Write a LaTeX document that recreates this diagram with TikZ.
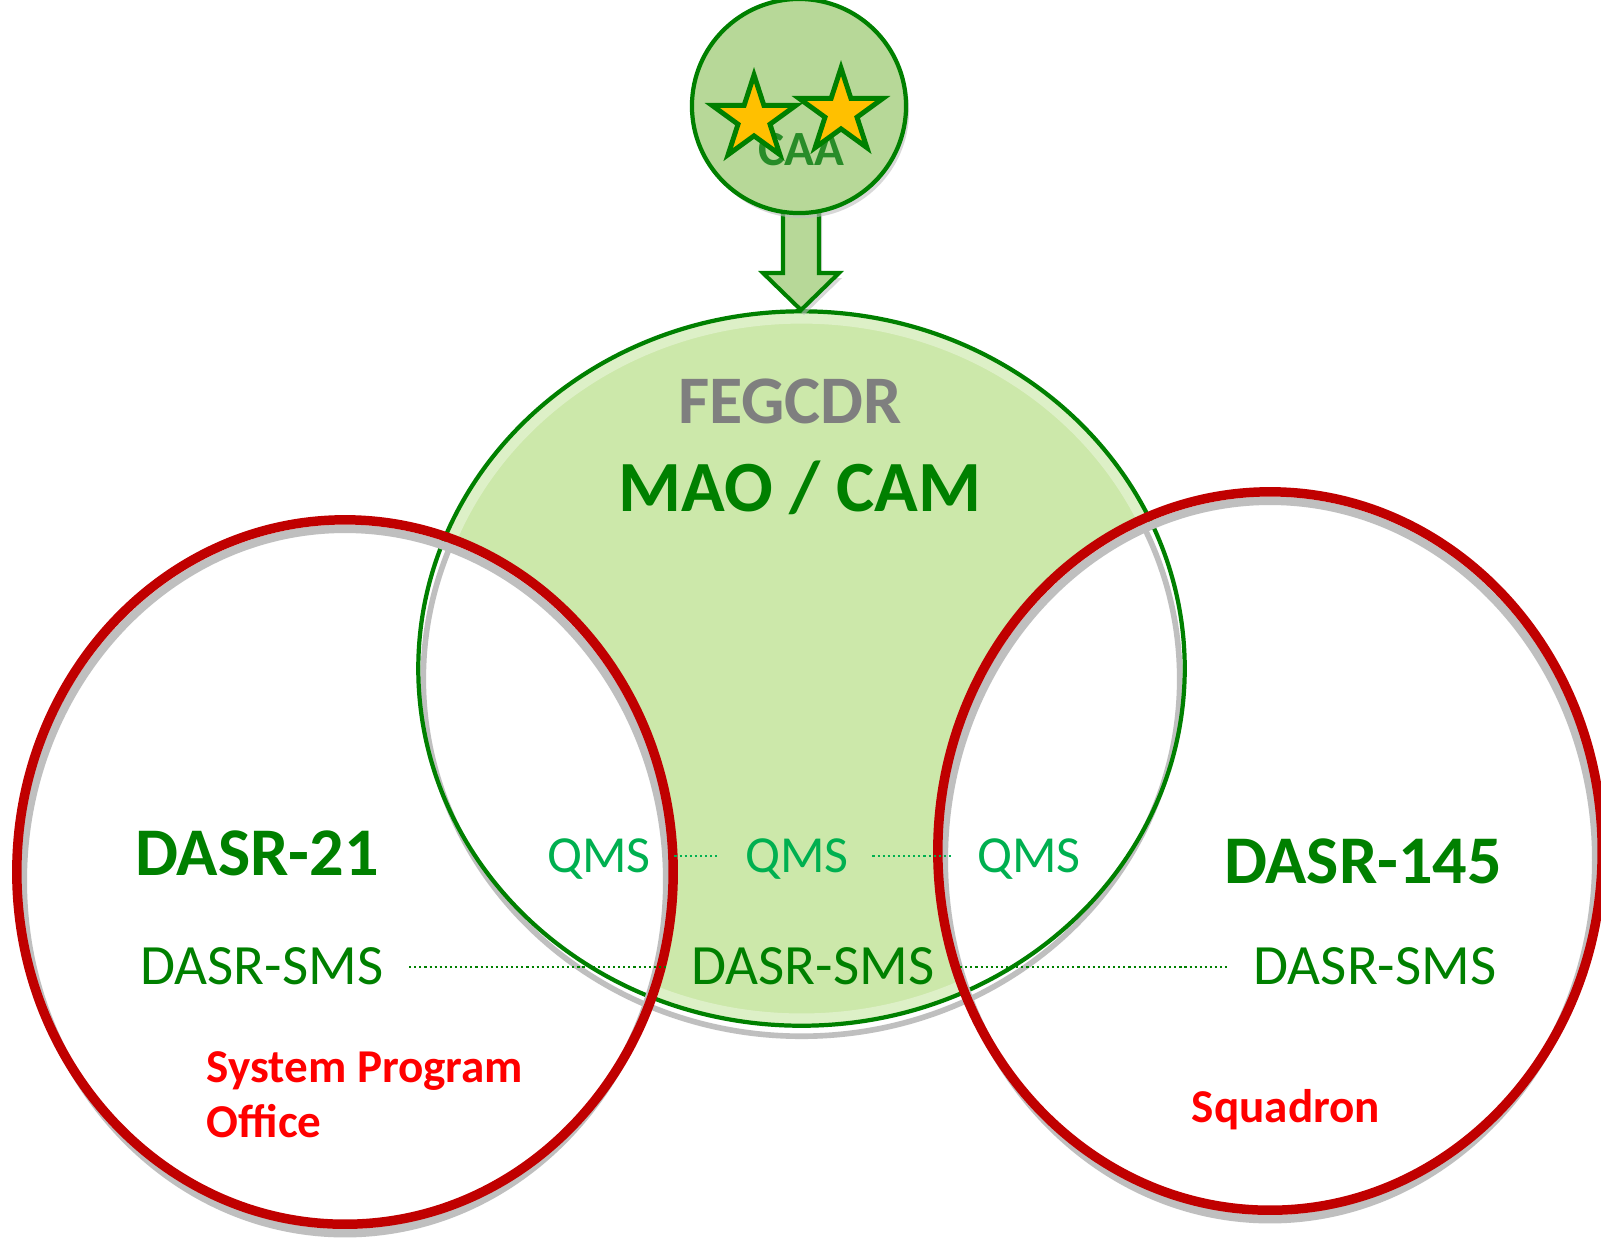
\documentclass[tikz,border=0pt]{standalone}
\usepackage{fontspec}
\setmainfont{Carlito}
\usetikzlibrary{shapes.geometric}
\definecolor{dgreen}{RGB}{0,128,0}
\definecolor{qgreen}{RGB}{0,176,80}
\definecolor{lgreen}{RGB}{204,232,170}
\definecolor{sage}{RGB}{183,216,152}
\definecolor{dred}{RGB}{192,0,0}
\definecolor{shadowgray}{RGB}{191,191,191}
\definecolor{txtgray}{RGB}{127,127,127}
\definecolor{starfill}{RGB}{255,192,0}
\definecolor{caagreen}{RGB}{40,140,40}
\begin{document}
\begin{tikzpicture}[x=0.01cm, y=-0.01cm,
  redring/.style={draw=dred, line width=2.7pt},
  shadowring/.style={draw=shadowgray, line width=2.4pt},
  greenring/.style={draw=dgreen, line width=1.2pt},
  gshadow/.style={draw=shadowgray, line width=1.6pt},
  bigbold/.style={inner sep=0pt, text depth=0pt, text height=12.26pt, font=\bfseries\fontsize{19.4pt}{23pt}\selectfont, text=dgreen},
  smstext/.style={inner sep=0pt, text depth=0pt, text height=10.2pt, font=\fontsize{16.2pt}{19pt}\selectfont, text=dgreen},
  qmstext/.style={inner sep=0pt, text depth=0pt, text height=9.35pt, font=\fontsize{14.8pt}{18pt}\selectfont, text=qgreen},
  dotline/.style={draw=dgreen, line width=0.6pt, dash pattern=on 0.6pt off 0.85pt, shorten <=0.25cm, shorten >=0.25cm},
  qdotline/.style={draw=qgreen, line width=0.6pt, dash pattern=on 0.6pt off 0.85pt, shorten <=0.23cm, shorten >=0.25cm},
  starshape/.style={star, star points=5, star point ratio=2.618, minimum size=0.88cm, inner sep=0pt, draw=dgreen, fill=starfill, line width=1.4pt},
  orgtext/.style={font=\bfseries\fontsize{13.4pt}{15.65pt}\selectfont, text=red, inner sep=0pt},
  blockarrow/.style={draw=dgreen, fill=sage, line width=1.15pt, line join=miter}
]
\fill[white] (0,0) rectangle (1601,1241);
\useasboundingbox (0,0) rectangle (1601,1241);

\coordinate (gc) at (801.5,668.5);
\coordinate (gs) at (801.5,679);
\coordinate (lc) at (345,872);
\coordinate (ls) at (345,881);
\coordinate (rc) at (1270,851);
\coordinate (rs) at (1270,860);

% green ellipse shadow and fill
\draw[gshadow] (gs) ellipse [x radius=3.78cm, y radius=3.57cm];
\fill[lgreen] (gc) ellipse [x radius=3.83cm, y radius=3.57cm];
\begin{scope}
  \clip (gc) ellipse [x radius=3.83cm, y radius=3.57cm];
  \draw[white, opacity=0.35, line width=3pt] (gc) ellipse [x radius=3.76cm, y radius=3.50cm];
\end{scope}

% white fills of red circles
\fill[white] (lc) ellipse [x radius=3.28cm, y radius=3.52cm];
\fill[white] (rc) ellipse [x radius=3.32cm, y radius=3.59cm];

% green shadow visible inside red circles
\begin{scope}
  \clip (lc) ellipse [x radius=3.28cm, y radius=3.52cm] (rc) ellipse [x radius=3.32cm, y radius=3.59cm];
  \draw[gshadow] (gs) ellipse [x radius=3.78cm, y radius=3.57cm];
\end{scope}

% green outline
\draw[greenring] (gc) ellipse [x radius=3.83cm, y radius=3.57cm];

% red shadows and rings
\draw[shadowring] (ls) ellipse [x radius=3.22cm, y radius=3.52cm];
\draw[shadowring] (rs) ellipse [x radius=3.26cm, y radius=3.59cm];
\draw[redring] (lc) ellipse [x radius=3.28cm, y radius=3.52cm];
\draw[redring] (rc) ellipse [x radius=3.32cm, y radius=3.59cm];

% texts
\node[inner sep=0pt, text depth=0pt, text height=12.23pt, font=\bfseries\fontsize{19.35pt}{23pt}\selectfont, text=txtgray] (fegcdr) at (790,402) {FEGCDR};
\node[inner sep=0pt, text depth=0pt, text height=12.96pt, font=\bfseries\fontsize{20.5pt}{24pt}\selectfont, text=dgreen] (maocam) at (800,489) {MAO / CAM};
\node[bigbold] (dasr21) at (257,854) {DASR-21};
\node[bigbold] (dasr145) at (1363,862) {DASR-145};

\node[qmstext] (qmsL) at (599,856) {QMS};
\node[qmstext] (qmsM) at (797,856) {QMS};
\node[qmstext] (qmsR) at (1029,856) {QMS};

\node[smstext] (smsL) at (262,967) {DASR-SMS};
\node[smstext] (smsM) at (813,967) {DASR-SMS};
\node[smstext] (smsR) at (1375,967) {DASR-SMS};

\draw[qdotline] (qmsL.east) -- (qmsM.west);
\draw[qdotline] (qmsM.east) -- (qmsR.west);
\draw[dotline] (smsL.east) -- (smsM.west);
\draw[dotline] (smsM.east) -- (smsR.west);

\node[orgtext, align=left, anchor=north west] (spo) at (206,1051) {System Program\\Office};
\node[orgtext, text depth=0pt, text height=8.5pt] (squadron) at (1286,1108) {Squadron};

% CAA with arrow
\fill[shadowgray, opacity=0.6] (786,205) -- (786,278) -- (767,278) -- (804,315) -- (842,278) -- (822,278) -- (822,205) -- cycle;
\draw[blockarrow] (783,200) -- (783,273) -- (763,273) -- (801,310) -- (839,273) -- (819,273) -- (819,200);
\fill[shadowgray, opacity=0.6] (802,111) circle [radius=1.07cm];
\node[circle, draw=dgreen, fill=sage, line width=1.2pt, minimum size=2.14cm, inner sep=0pt] (caa) at (799,106) {};
\node[inner sep=0pt, text depth=0pt, text height=8.8pt, font=\bfseries\fontsize{14pt}{17pt}\selectfont, text=caagreen] (caatext) at (801,150) {CAA};
\node[starshape] (star1) at (754,119) {};
\node[starshape] (star2) at (841,112) {};
\end{tikzpicture}
\end{document}
